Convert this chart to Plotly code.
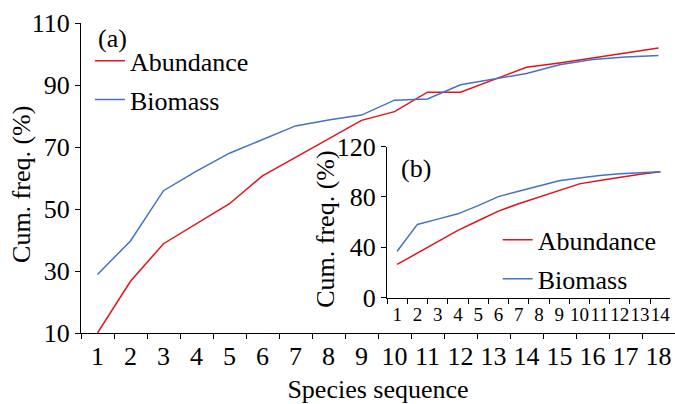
import plotly.graph_objects as go

# ---- data ----
species_a = [str(i) for i in range(1, 19)]
abundance_a = [10, 26.7, 38.8, 45.3, 51.7, 60.7, 66.7, 72.7, 78.6, 81.4, 87.7, 87.7, 91.7, 95.7, 97.1, 98.7, 100.3, 101.9]
biomass_a = [28.9, 39.7, 55.9, 62.2, 68.0, 72.5, 76.8, 78.7, 80.3, 85.1, 85.5, 90.1, 92.0, 93.7, 96.5, 98.2, 99.0, 99.5]

species_b = [str(i) for i in range(1, 15)]
abundance_b = [26.3, 35.3, 44.4, 53.4, 61.0, 68.7, 74.5, 79.8, 85.0, 90.3, 93.0, 95.7, 98.0, 100]
biomass_b = [36.8, 58.1, 62.3, 66.5, 73.0, 80.2, 84.5, 88.7, 92.8, 95.0, 97.0, 98.3, 99.2, 100]

y_title = "Cum. freq. (%)"
x_title = "Species sequence"

RED = "#e3131b"
BLUE = "#4472c4"
FONT = "Liberation Serif"

fig = go.Figure()
fig.add_trace(go.Scatter(x=species_a, y=abundance_a, mode="lines", name="Abundance",
                         line=dict(color=RED, width=1.5), xaxis="x", yaxis="y",
                         legend="legend", legendgroup="a1"))
fig.add_trace(go.Scatter(x=species_a, y=biomass_a, mode="lines", name="Biomass",
                         line=dict(color=BLUE, width=1.5), xaxis="x", yaxis="y",
                         legend="legend", legendgroup="a2"))
fig.add_trace(go.Scatter(x=species_b, y=abundance_b, mode="lines", name="Abundance",
                         line=dict(color=RED, width=1.5), xaxis="x2", yaxis="y2",
                         legend="legend2", legendgroup="b1"))
fig.add_trace(go.Scatter(x=species_b, y=biomass_b, mode="lines", name="Biomass",
                         line=dict(color=BLUE, width=1.5), xaxis="x2", yaxis="y2",
                         legend="legend2", legendgroup="b2"))

axis_common = dict(showgrid=False, zeroline=False, showline=True, linecolor="black",
                   linewidth=1, ticks="outside", ticklen=5, tickcolor="black", tickwidth=1)

fig.update_layout(
    width=675, height=404,
    margin=dict(l=81, r=0, t=23, b=69),
    paper_bgcolor="white", plot_bgcolor="white",
    font=dict(family=FONT, size=26, color="black"),
    xaxis=dict(type="category", range=[-0.5, 17.5], tickson="boundaries",
               tickmode="array", tickvals=species_a, ticktext=species_a, tickangle=0,
               domain=[0, 1], anchor="y",
               title=dict(text=x_title, font=dict(size=26, family=FONT)),
               tickfont=dict(size=26, family=FONT), **axis_common),
    yaxis=dict(range=[10, 110], dtick=20, tick0=10, domain=[0, 1], anchor="x",
               tickfont=dict(size=26, family=FONT), **axis_common),
    xaxis2=dict(type="category", range=[-0.5, 13.5], tickson="boundaries",
                tickmode="array", tickvals=species_b, ticktext=species_b, tickangle=0,
                domain=[0.5152, 0.9924], anchor="y2",
                tickfont=dict(size=19, family=FONT), **axis_common),
    yaxis2=dict(range=[0, 120], dtick=40, domain=[0.1144, 0.6016], anchor="x2",
                tickfont=dict(size=26, family=FONT), **axis_common),
    legend=dict(x=0.015, y=0.954, xanchor="left", yanchor="top",
                bgcolor="rgba(0,0,0,0)", font=dict(size=26, family=FONT), tracegroupgap=2),
    legend2=dict(x=0.7015, y=0.376, xanchor="left", yanchor="top",
                 bgcolor="rgba(0,0,0,0)", font=dict(size=26, family=FONT), tracegroupgap=2),
    showlegend=True,
    annotations=[
        dict(text=y_title, x=-0.0993, y=0.4776, xref="paper", yref="paper", textangle=-90,
             xanchor="center", yanchor="middle", showarrow=False, font=dict(size=26, family=FONT)),
        dict(text=y_title, x=0.4125, y=0.333, xref="paper", yref="paper", textangle=-90,
             xanchor="center", yanchor="middle", showarrow=False, font=dict(size=26, family=FONT)),
        dict(text="(a)", x=0.026, y=0.95, xref="paper", yref="paper",
             xanchor="left", yanchor="middle", showarrow=False, font=dict(size=26, family=FONT)),
        dict(text="(b)", x=0.535, y=0.53, xref="paper", yref="paper",
             xanchor="left", yanchor="middle", showarrow=False, font=dict(size=26, family=FONT)),
    ],
)

fig.write_html("out.html")
